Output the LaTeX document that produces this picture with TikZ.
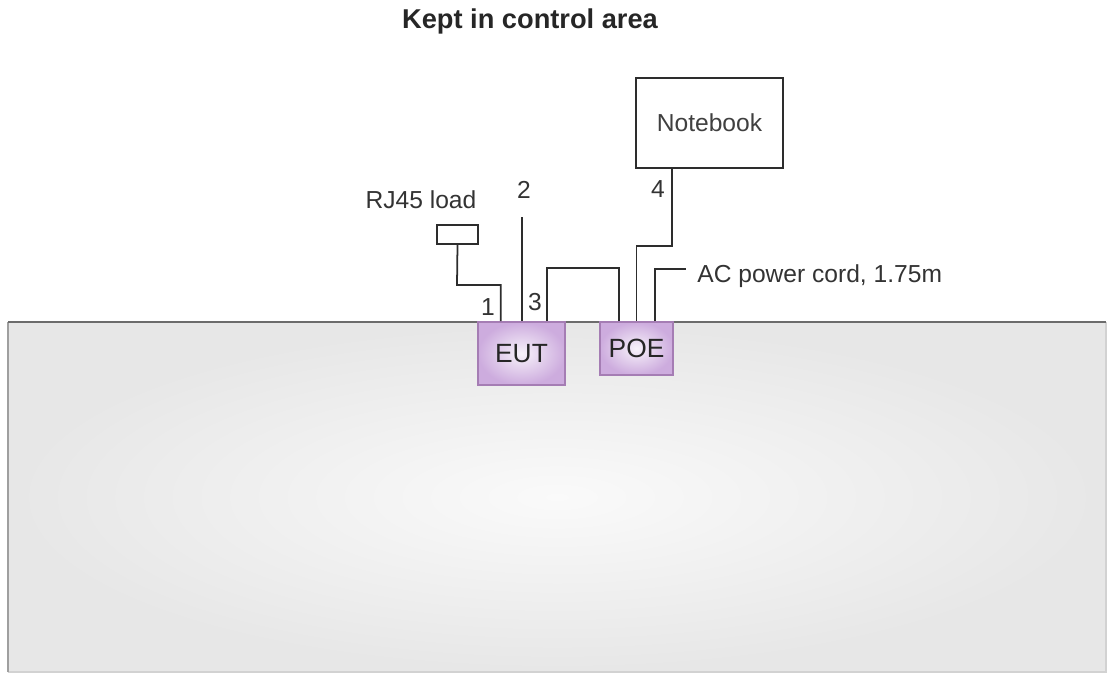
\documentclass[tikz,border=0pt]{standalone}
\usepackage{fontspec}
\setmainfont{Liberation Sans}
\usepackage{xcolor}
\usepackage{tikz}
\usetikzlibrary{calc}
\definecolor{boxedge}{RGB}{165,125,180}
\definecolor{boxout}{RGB}{205,172,222}
\definecolor{boxin}{RGB}{247,242,250}
\definecolor{cablecol}{RGB}{45,45,45}
\tikzstyle{unit}     = [rectangle, draw=boxedge, line width=0.9pt,
    inner color=boxin, outer color=boxout, inner sep=0pt,
    font=\fontsize{15}{17}\selectfont, text=black!85]
\tikzstyle{plainbox} = [rectangle, draw=cablecol, line width=1.1pt,
    fill=white, inner sep=0pt,
    font=\fontsize{14}{16}\selectfont, text=black!75]
\tikzstyle{cable}    = [draw=cablecol, line width=1pt]
\tikzstyle{lbl}      = [font=\fontsize{14}{16}\selectfont, text=black!80, inner sep=0pt]

\begin{document}
\begin{tikzpicture}[x=0.02cm, y=-0.02cm]
  \useasboundingbox (0,0) rectangle (1110,674);
  % table
  \shade[inner color=gray!4, outer color=gray!19] (8,322) rectangle (1106,672);
  \draw[gray!35, line width=0.8pt] (8,672) -- (1106,672) -- (1106,322);
  \draw[gray!75, line width=1.1pt] (8,672) -- (8,322);
  \draw[gray!85!black, line width=1.6pt] (8,322) -- (1106,322);

  \node[font=\bfseries\fontsize{15.5}{18}\selectfont, text=black!85] (title) at (530,21) {Kept in control area};

  \node[unit, minimum width=1.74cm, minimum height=1.26cm] (eut) at (521.5,353.5) {EUT};
  \node[unit, minimum width=1.46cm, minimum height=1.06cm] (poe) at (636.5,348.5) {POE};
  \node[plainbox, minimum width=2.94cm, minimum height=1.8cm] (nb) at (709.5,123) {Notebook};
  \node[plainbox, minimum width=0.82cm, minimum height=0.38cm] (rj) at (457.5,234.5) {};

  \coordinate (c2end) at (522,217);
  \coordinate (acend) at (686,269);

  % cables
  \draw[cable] (rj.south) -- (457,285) -| ($(eut.north west)+(23.5,0)$);
  \draw[cable] (c2end) -- (c2end |- eut.north);
  \draw[cable] ($(eut.north west)+(70,0)$) -- ++(0,-53) -| ($(poe.north west)+(20,0)$);
  \draw[cable] ($(nb.south west)+(37,0)$) -- ++(0,77) -| (poe.north);
  \draw[cable] ($(poe.north west)+(56,0)$) |- (acend);

  % labels
  \node[lbl] (rjlbl) at (421,200) {RJ45 load};
  \node[lbl] (n1) at (488,307) {1};
  \node[lbl] (n2) at (524,190) {2};
  \node[lbl] (n3) at (535,302) {3};
  \node[lbl] (n4) at (658,189) {4};
  \node[lbl, anchor=west] (aclbl) at (697,276) {AC power cord, 1.75m};
\end{tikzpicture}
\end{document}
